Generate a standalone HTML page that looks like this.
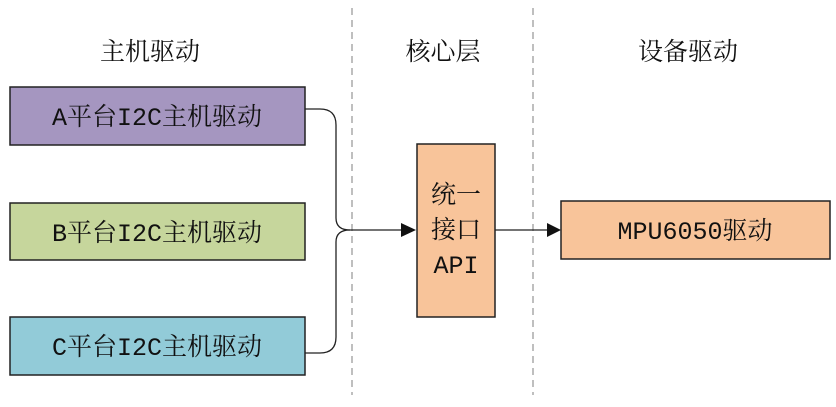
<!DOCTYPE html>
<html><head><meta charset="utf-8"><style>
body{margin:0;background:#fff;width:836px;height:402px;overflow:hidden}
svg text{font-family:"Liberation Mono","Noto Serif CJK SC",monospace;font-size:25px;fill:#111}
</style></head><body>
<svg width="836" height="402" xmlns="http://www.w3.org/2000/svg">
<line x1="352" y1="8" x2="352" y2="395" stroke="#aaa" stroke-width="1.5" stroke-dasharray="7,5"/>
<line x1="533" y1="8" x2="533" y2="395" stroke="#aaa" stroke-width="1.5" stroke-dasharray="7,5"/>
<text x="150" y="60" text-anchor="middle">主机驱动</text>
<text x="443" y="60" text-anchor="middle">核心层</text>
<text x="688" y="60" text-anchor="middle">设备驱动</text>
<rect x="10" y="87" width="295" height="58" fill="#a596c0" stroke="#222" stroke-width="1.5"/>
<rect x="10" y="203" width="295" height="57" fill="#c6d69c" stroke="#222" stroke-width="1.5"/>
<rect x="10" y="317" width="295" height="58" fill="#92cbd8" stroke="#222" stroke-width="1.5"/>
<text x="157" y="125" text-anchor="middle">A平台I2C主机驱动</text>
<text x="157" y="241" text-anchor="middle">B平台I2C主机驱动</text>
<text x="157" y="355" text-anchor="middle">C平台I2C主机驱动</text>
<path d="M305 109 H320 Q336 109 336 125 V218 Q336 230 350 230" fill="none" stroke="#222" stroke-width="1.3"/>
<path d="M305 353 H320 Q336 353 336 337 V242 Q336 230 350 230" fill="none" stroke="#222" stroke-width="1.3"/>
<line x1="350" y1="230" x2="403" y2="230" stroke="#222" stroke-width="1.3"/>
<polygon points="401,223 416,230 401,237" fill="#111"/>
<rect x="417" y="144" width="78" height="173" fill="#f8c49a" stroke="#222" stroke-width="1.5"/>
<text x="456" y="203" text-anchor="middle">统一</text>
<text x="456" y="238" text-anchor="middle">接口</text>
<text x="456" y="273" text-anchor="middle">API</text>
<line x1="495" y1="230" x2="548" y2="230" stroke="#222" stroke-width="1.3"/>
<polygon points="547,223 561,230 547,237" fill="#111"/>
<rect x="561" y="201" width="269" height="58" fill="#f8c49a" stroke="#222" stroke-width="1.5"/>
<text x="695" y="239" text-anchor="middle">MPU6050驱动</text>
</svg>
</body></html>
